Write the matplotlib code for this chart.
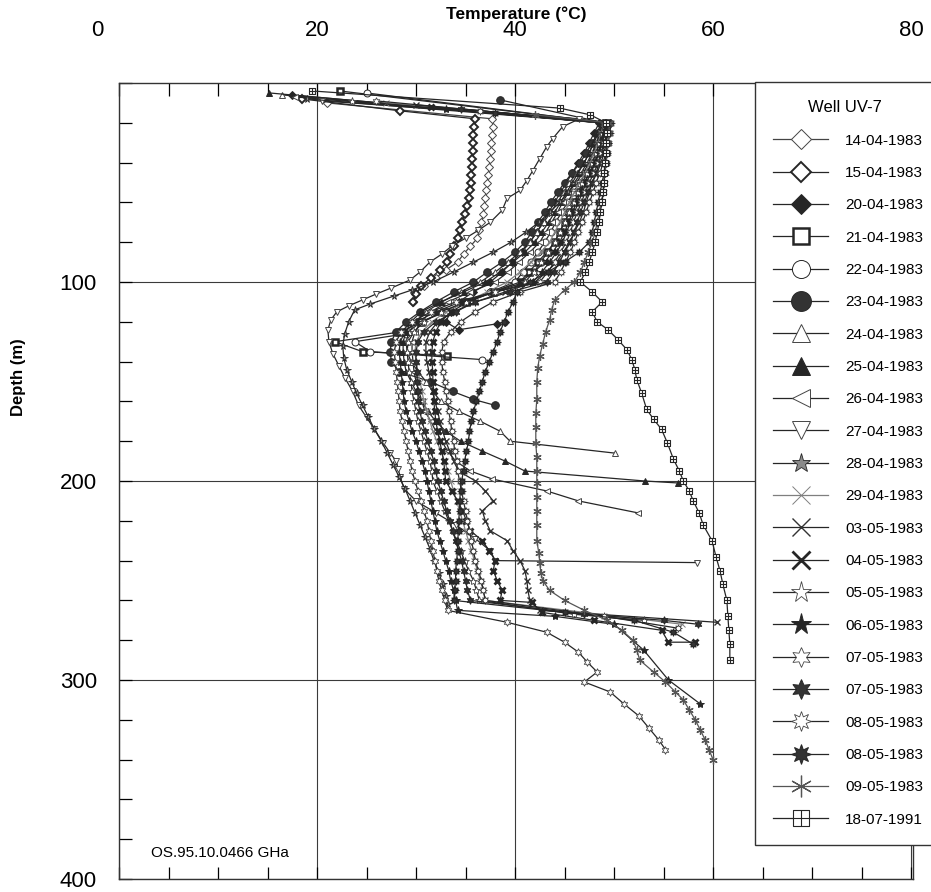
import matplotlib
matplotlib.use("Agg")
import matplotlib.pyplot as plt
from matplotlib.path import Path

plt.rcParams["font.family"] = ["Liberation Sans", "DejaVu Sans"]

# --- data (temperature degC vs depth m) ---
labels = ["14-04-1983", "15-04-1983", "20-04-1983", "21-04-1983", "22-04-1983",
          "23-04-1983", "24-04-1983", "25-04-1983", "26-04-1983", "27-04-1983",
          "28-04-1983", "29-04-1983", "03-05-1983", "04-05-1983", "05-05-1983",
          "06-05-1983", "07-05-1983", "07-05-1983", "08-05-1983", "08-05-1983",
          "09-05-1983", "18-07-1991"]

# depths of the logs read every 5 m
d_band = [20, 25, 30, 35, 40, 45, 50, 55, 60, 65, 70, 75, 80, 85, 90, 95, 100,
          105, 110, 115, 120, 125, 130, 135, 140, 145, 150, 155, 160, 165, 170,
          175, 180, 185, 190, 195, 200, 205, 210, 215, 220, 225, 230, 235, 240,
          245, 250, 255, 260, 265]

d_1404 = [10, 18, 22, 26, 30, 34, 38, 42, 46, 50, 54, 58, 62, 66, 70, 74, 78,
          82, 86, 90, 94, 98, 102, 106, 110]
t_1404 = [21.0, 37.7, 37.8, 37.7, 37.6, 37.6, 37.5, 37.4, 37.3, 37.2, 37.1, 37.0,
          36.9, 36.8, 36.6, 36.4, 36.2, 35.5, 34.8, 34.2, 33.0, 32.0, 30.8, 29.9, 29.7]

d_1504 = [8, 14, 18, 22, 26, 30, 34, 38, 42, 46, 50, 54, 58, 62, 66, 70, 74, 78,
          82, 86, 90, 94, 98, 102, 106, 110]
t_1504 = [18.5, 28.4, 36.0, 35.9, 35.8, 35.8, 35.8, 35.7, 35.7, 35.6, 35.6, 35.5,
          35.4, 35.2, 34.9, 34.6, 34.4, 34.2, 33.8, 33.4, 33.1, 32.4, 31.5, 30.5,
          30.0, 29.7]

top_2004 = (17.5, 6)
t_2004 = [48.5, 48.0, 47.5, 47.0, 46.4, 45.8, 45.2, 44.6, 44.0, 43.4, 42.8, 42.2,
          41.5, 40.7, 39.7, 38.7, 37.5, 35.8, 34.3, 33.5, 33.0]
tail_2004 = ([34.3, 38.2, 39.0], [124, 121, 120])

top_2104 = (22.3, 4)
t_2104 = [49.3, 49.0, 48.7, 48.4, 48.0, 47.5, 47.0, 46.5, 46.0, 45.5, 45.0, 44.5,
          44.0, 43.2, 42.3, 41.4, 40.5, 37.8, 35.0, 32.8, 30.5]
tail_2104 = ([28.5, 21.8, 24.6, 33.1], [125, 130, 135, 137])

top_2204 = (25.0, 5)
t_2204 = [49.2, 48.9, 48.6, 48.2, 47.8, 47.2, 46.5, 45.9, 45.3, 44.7, 44.1, 43.6,
          43.0, 42.3, 41.6, 40.8, 40.0, 37.5, 35.0, 33.0, 30.5]
tail_2204 = ([29.0, 23.8, 25.4, 36.7], [126, 130, 135, 139])

top_2304 = (38.5, 8.5)
t_2304 = [49.0, 48.4, 47.8, 47.2, 46.6, 45.8, 45.0, 44.3, 43.6, 43.0, 42.3, 41.7,
          41.0, 40.0, 38.7, 37.2, 35.8, 33.8, 32.0, 30.4, 29.0, 28.0, 27.5, 27.4,
          27.5, 28.3]
tail_2304 = ([31.4, 33.7, 35.8, 38.0], [150, 155, 159, 162])

top_2404 = (16.5, 6)
t_2404 = [48.8, 48.4, 48.0, 47.5, 47.0, 46.3, 45.5, 44.9, 44.3, 43.6, 42.9, 42.2,
          41.5, 40.5, 39.3, 38.0, 36.5, 34.5, 32.6, 31.0, 30.0, 29.3, 29.0, 29.1,
          29.5, 30.2, 31.0, 31.7, 32.5, 34.3, 36.5, 38.5, 39.5]
tail_2404 = ([50.1], [186])

top_2504 = (15.2, 5)
t_2504 = [48.7, 48.3, 47.9, 47.5, 47.0, 46.4, 45.8, 45.2, 44.6, 44.0, 43.4, 42.7,
          42.0, 41.0, 39.8, 38.5, 37.0, 34.8, 32.5, 30.5, 29.5, 29.0, 28.7, 28.7,
          28.8, 29.0, 29.5, 30.0, 30.6, 31.2, 32.0, 33.0, 34.5, 36.7, 39.0, 41.0]
tail_2504 = ([53.1, 56.5], [200, 201])

top_2604 = (17.8, 7)
t_2604 = [49.0, 48.6, 48.2, 47.8, 47.3, 46.7, 46.0, 45.4, 44.8, 44.3, 43.7, 43.1,
          42.5, 41.5, 40.4, 39.3, 38.0, 35.5, 33.2, 31.5, 30.5, 29.9, 29.6, 29.6,
          29.7, 29.8, 30.0, 30.3, 30.6, 30.9, 31.5, 32.0, 32.6, 33.2, 34.0, 35.5]
tail_2604 = ([37.7, 43.2, 46.4, 52.4], [199, 205, 210, 216])

d_2704 = [9, 18, 22, 28, 32, 38, 44, 49, 54, 58, 64, 70, 74, 78, 82, 86, 90, 95,
          99, 103, 106, 109, 112, 115, 119, 124, 130, 136, 142, 148, 155, 162, 168,
          174, 181, 186, 190, 194, 198, 204, 210, 216, 222, 229, 235, 240, 241]
t_2704 = [20.5, 46.5, 44.8, 43.8, 43.2, 42.5, 41.8, 41.2, 40.5, 39.2, 38.7, 37.5,
          36.3, 35.0, 33.6, 32.6, 31.4, 30.4, 29.4, 27.5, 26.0, 24.6, 23.2, 22.0,
          21.4, 21.1, 21.2, 21.6, 22.2, 22.8, 23.6, 24.2, 25.0, 25.8, 26.7, 27.4,
          28.0, 28.2, 28.4, 28.8, 30.0, 32.0, 34.0, 36.0, 37.5, 38.0, 58.4]

d_2804 = [8, 20, 25, 30, 35, 40, 45, 50, 55, 60, 65, 70, 75, 80, 85, 90, 95, 100,
          104, 107, 111, 114, 120, 126, 132, 138, 144, 150, 156, 162, 168, 174, 180,
          186, 192, 198, 204, 210, 216, 222, 228, 234, 240, 246, 252, 258, 262]
t_2804 = [19.0, 48.8, 48.6, 48.3, 47.9, 47.5, 46.9, 46.2, 45.4, 44.5, 43.5, 42.4,
          41.1, 39.6, 37.8, 35.8, 33.8, 31.7, 29.6, 27.8, 25.4, 23.8, 23.2, 22.8,
          22.6, 22.7, 23.0, 23.5, 24.0, 24.6, 25.2, 25.8, 26.5, 27.1, 27.7, 28.3,
          28.9, 29.4, 29.9, 30.4, 30.9, 31.4, 31.8, 32.3, 32.7, 33.0, 33.2]

top_2904 = (27.0, 10)
t_2904 = [49.0, 48.7, 48.4, 48.0, 47.6, 47.1, 46.5, 46.0, 45.5, 45.0,
          44.5, 44.0, 43.5, 42.6, 41.6, 40.5, 39.2, 37.2, 35.0, 33.0,
          31.6, 30.6, 30.0, 29.9, 30.0, 30.2, 30.4, 30.6, 30.8, 31.1,
          31.4, 31.7, 32.1, 32.5, 32.9, 33.2, 33.5, 33.8, 34.1, 34.4,
          34.7, 35.0, 35.3, 35.6, 35.9, 36.2, 36.5, 36.8, 37.0]
tail_2904 = ([56.9], [272])

top_0305 = (30.0, 11)
t_0305 = [49.5, 49.3, 49.1, 48.8, 48.5, 48.2, 47.8, 47.5, 47.2, 46.9,
          46.5, 46.0, 45.5, 44.9, 44.2, 43.2, 42.0, 39.0, 36.0, 33.8,
          32.2, 31.4, 31.0, 31.0, 31.1, 31.3, 31.5, 31.7, 31.9, 32.2,
          32.4, 32.7, 33.0, 33.4, 33.8, 34.3, 36.0, 37.0, 37.8, 36.7,
          37.0, 37.5, 39.2, 39.8, 40.5, 41.0, 41.2, 41.3, 41.5, 42.5]
tail_0305 = ([60.4], [271])

top_0405 = (31.5, 12)
t_0405 = [49.3, 49.1, 48.8, 48.5, 48.1, 47.6, 47.0, 46.6, 46.2, 45.8,
          45.4, 45.0, 44.5, 43.8, 43.0, 41.9, 40.5, 37.8, 35.3, 33.5,
          32.5, 32.0, 31.7, 31.6, 31.6, 31.7, 31.7, 31.8, 31.8, 31.9,
          32.0, 32.2, 32.4, 32.6, 32.8, 32.9, 33.0, 33.6, 34.2, 34.7,
          35.1, 35.5, 36.7, 37.4, 38.0, 37.8, 38.2, 38.7, 38.5]
tail_0405 = ([41.7, 42.7, 48.0, 54.8, 55.5, 58.2], [261, 266, 270, 275, 281, 281])

top_0505 = (23.5, 9)
t_0505 = [49.0, 48.8, 48.5, 48.2, 47.8, 47.3, 46.8, 46.4, 46.0, 45.5,
          45.0, 44.5, 44.0, 43.3, 42.6, 41.9, 41.0, 38.0, 35.0, 32.5,
          30.8, 29.8, 29.2, 29.1, 29.2, 29.3, 29.5, 29.6, 29.8, 30.0,
          30.2, 30.5, 30.8, 31.1, 31.4, 31.6, 31.7, 32.1, 32.5, 32.9,
          33.3, 33.7, 34.1, 34.5, 34.9, 35.3, 35.8, 36.1, 36.4]
tail_0505 = ([46.0, 53.0], [267, 270])

top_0605 = (33.0, 13)
t_0605 = [49.2, 49.0, 48.8, 48.5, 48.1, 47.7, 47.2, 46.8, 46.4, 46.0,
          45.6, 45.2, 44.8, 44.2, 43.5, 42.7, 41.8, 38.0, 34.5, 32.0,
          30.0, 28.9, 28.4, 28.3, 28.4, 28.5, 28.6, 28.7, 28.8, 29.0,
          29.3, 29.6, 30.0, 30.3, 30.6, 30.9, 31.1, 31.3, 31.5, 31.7,
          31.9, 32.1, 32.4, 32.7, 33.0, 33.3, 33.5, 33.8, 34.0, 34.2]
tail_0605 = ([44.0, 50.0, 53.0, 55.5, 58.7], [268, 272, 285, 300, 312])

top_0705a = (26.0, 9)
t_0705a = [49.5, 49.3, 49.0, 48.7, 48.4, 48.0, 47.5, 47.1, 46.7, 46.3,
           45.9, 45.6, 45.2, 44.6, 44.0, 43.3, 42.5, 38.0, 34.0, 31.5,
           29.6, 28.5, 28.0, 27.8, 27.9, 28.0, 28.1, 28.2, 28.3, 28.4,
           28.6, 28.8, 29.0, 29.2, 29.4, 29.6, 29.9, 30.2, 30.5, 30.8,
           31.1, 31.3, 31.5, 31.7, 31.9, 32.1, 32.3, 32.6, 32.9, 33.2]
tail_0705a = ([39.2, 43.2, 45.0, 46.4, 47.3, 48.3, 47.0, 49.6, 51.0, 52.5, 53.5, 54.5, 55.2],
              [271, 276, 281, 286, 291, 296, 301, 306, 312, 318, 324, 330, 335])

top_0705b = (34.5, 13)
t_0705b = [49.6, 49.4, 49.2, 49.0, 48.7, 48.3, 47.8, 47.4, 47.0, 46.6,
           46.3, 46.0, 45.6, 45.0, 44.5, 43.9, 43.2, 39.5, 36.0, 34.0,
           32.0, 30.8, 30.2, 30.0, 30.0, 30.1, 30.1, 30.2, 30.2, 30.4,
           30.6, 30.9, 31.2, 31.5, 31.8, 32.0, 32.2, 32.5, 32.8, 33.1,
           33.4, 33.7, 34.0, 34.3, 34.6, 34.8, 35.0, 35.2, 35.5]
tail_0705b = ([47.0, 55.0, 58.5], [267, 270, 272])

top_0805a = (36.5, 14)
t_0805a = [49.7, 49.6, 49.4, 49.2, 48.9, 48.6, 48.2, 47.9, 47.5, 47.2,
           46.8, 46.4, 46.0, 45.6, 45.1, 44.6, 44.0, 40.5, 37.8, 36.0,
           34.5, 33.5, 32.8, 32.6, 32.6, 32.7, 32.9, 33.0, 33.2, 33.3,
           33.5, 33.6, 33.8, 33.9, 34.1, 34.2, 34.4, 34.6, 34.8, 35.0,
           35.2, 35.4, 35.6, 35.8, 36.0, 36.3, 36.6, 36.8, 37.0]
tail_0805a = ([49.0, 56.5], [268, 274])

top_0805b = (38.0, 15)
t_0805b = [49.6, 49.5, 49.4, 49.3, 49.2, 49.0, 48.8, 48.6, 48.4, 48.2,
           48.0, 47.8, 47.5, 46.5, 45.0, 43.3, 41.5, 40.2, 39.8, 39.3,
           38.9, 38.5, 38.2, 37.8, 37.4, 37.0, 36.7, 36.4, 36.1, 35.8,
           35.6, 35.4, 35.3, 35.1, 34.9, 34.8, 34.6, 34.5, 34.4, 34.4,
           34.3, 34.3, 34.2, 34.2, 34.1, 34.0, 34.0, 33.9, 33.8]
tail_0805b = ([45.0, 52.0, 56.0, 58.0], [266, 270, 276, 282])

d_0905 = [16, 20, 25, 30, 35, 40, 45, 50, 55, 60, 65, 70, 75, 80, 85, 90, 95, 100,
          104, 109, 114, 119, 125, 131, 137, 143, 150, 159, 166, 173, 181, 188, 195,
          201, 208, 215, 222, 230, 236, 241, 246, 250, 255, 260, 265, 270, 275, 280,
          285, 290, 296, 301, 306, 310, 315, 320, 325, 330, 335, 340]
t_0905 = [42.0, 49.5, 49.5, 49.4, 49.3, 49.2, 49.1, 49.0, 48.9, 48.7, 48.5, 48.3,
          48.1, 47.8, 47.4, 47.0, 46.6, 46.0, 45.0, 44.0, 43.7, 43.5, 43.1, 42.8,
          42.5, 42.3, 42.2, 42.2, 42.1, 42.1, 42.1, 42.2, 42.2, 42.2, 42.2, 42.2,
          42.2, 42.2, 42.4, 42.5, 42.6, 42.8, 43.5, 45.0, 47.0, 49.3, 50.8, 51.9,
          52.3, 52.6, 54.0, 55.2, 56.2, 57.0, 57.6, 58.2, 58.7, 59.2, 59.6, 60.0]

d_1991 = [4, 12.6, 16, 20, 25, 30, 35, 40, 45, 50, 55, 60, 65, 70, 75, 80, 85, 90,
          95, 100, 105, 110, 115, 120, 124, 129, 134, 139, 144, 149, 156, 164, 169,
          174, 181, 189, 195, 200, 205, 210, 216, 222, 230, 238, 245, 252, 260, 268,
          275, 282, 290]
t_1991 = [19.5, 44.5, 47.6, 49.2, 49.3, 49.2, 49.2, 49.1, 49.0, 49.0, 48.9, 48.8,
          48.6, 48.5, 48.3, 48.1, 47.8, 47.5, 47.1, 46.6, 47.8, 48.8, 47.8, 48.3,
          49.4, 50.4, 51.3, 51.8, 52.1, 52.3, 52.8, 53.3, 54.0, 54.8, 55.4, 56.0,
          56.6, 57.0, 57.6, 58.0, 58.6, 59.0, 59.9, 60.3, 60.7, 61.0, 61.4, 61.5,
          61.6, 61.7, 61.7]


def profile(top, temps, tail):
    ts = [top[0]] + temps + tail[0]
    ds = [top[1]] + d_band[:len(temps)] + tail[1]
    return ts, ds


box_plus = Path([(-1, -1), (1, -1), (1, 1), (-1, 1), (-1, -1),
                 (0, -1), (0, 1), (-1, 0), (1, 0)],
                [Path.MOVETO, Path.LINETO, Path.LINETO, Path.LINETO, Path.CLOSEPOLY,
                 Path.MOVETO, Path.LINETO, Path.MOVETO, Path.LINETO])

dark = "#262626"
light = "#7f7f7f"
mid = "#555555"


def st(marker, ms=4.5, fill="white", edge=dark, mew=0.7, color=dark):
    return dict(marker=marker, ms=ms, mfc=fill, mec=edge, mew=mew, color=color, lw=0.9)


series = [
    ((t_1404, d_1404), st("D", 4, edge="#444444", color="#444444")),
    ((t_1504, d_1504), st("D", 4, mew=1.4)),
    (profile(top_2004, t_2004, tail_2004), st("D", 4, fill=dark)),
    (profile(top_2104, t_2104, tail_2104), st("s", 4.2, mew=1.8)),
    (profile(top_2204, t_2204, tail_2204), st("o", 5)),
    (profile(top_2304, t_2304, tail_2304), st("o", 5.5, fill="#333333")),
    (profile(top_2404, t_2404, tail_2404), st("^", 5, edge="#444444")),
    (profile(top_2504, t_2504, tail_2504), st("^", 5, fill=dark)),
    (profile(top_2604, t_2604, tail_2604), st("<", 5, edge="#444444")),
    ((t_2704, d_2704), st("v", 5, edge="#444444")),
    ((t_2804, d_2804), st("*", 5.5, fill="#8a8a8a", mew=0.6)),
    (profile(top_2904, t_2904, tail_2904), st("x", 5, edge=light, color=light)),
    (profile(top_0305, t_0305, tail_0305), st("x", 5, edge="#333333", mew=1.0)),
    (profile(top_0405, t_0405, tail_0405), st("x", 5, mew=2.0)),
    (profile(top_0505, t_0505, tail_0505), st("*", 6, edge="#444444", mew=0.6)),
    (profile(top_0605, t_0605, tail_0605), st("*", 6, fill=dark)),
    (profile(top_0705a, t_0705a, tail_0705a), st((6, 1, 0), 5.5, edge="#444444", mew=0.6)),
    (profile(top_0705b, t_0705b, tail_0705b), st((6, 1, 0), 5.5, fill="#333333")),
    (profile(top_0805a, t_0805a, tail_0805a), st((8, 1, 0), 5.5, edge="#444444", mew=0.6)),
    (profile(top_0805b, t_0805b, tail_0805b), st((8, 1, 0), 5.5, fill="#333333")),
    ((t_0905, d_0905), st((6, 2, 0), 6, edge=mid, mew=0.9, color=mid)),
    ((t_1991, d_1991), st(box_plus, 4.5, mew=0.8)),
]

fig = plt.figure(figsize=(9.31, 8.92), dpi=100)
ax = fig.add_axes([119 / 931, 1 - 879 / 892, 794 / 931, 796 / 892])

handles = []
for (ts, ds), kw in series:
    h, = ax.plot(ts, ds, **kw, zorder=3)
    handles.append(h)

ax.set_xlim(0, 80.2)
ax.set_ylim(400, 0)

ax.set_xticks([0, 20, 40, 60, 80])
ax.set_xticks(range(0, 81, 5), minor=True)
ax.set_xticklabels(["", "20", "40", "60", "80"])
ax.set_yticks([100, 200, 300, 400])
ax.set_yticks(range(0, 401, 20), minor=True)
ax.tick_params(axis="x", which="both", top=True, bottom=True, labeltop=True,
               labelbottom=False, direction="in", length=9, width=0.9,
               labelsize=16, pad=30)
ax.tick_params(axis="y", which="both", left=True, right=False, direction="in",
               length=9, width=0.9, labelsize=16, pad=16)
ax.grid(True, which="major", color="#3a3a3a", lw=0.8)
for sp in ax.spines.values():
    sp.set_linewidth(1.0)
    sp.set_color("#333333")

ax.xaxis.set_label_position("top")
ax.set_xlabel("Temperature (°C)", fontsize=12.5, fontweight="bold", labelpad=1)
ax.set_ylabel("Depth (m)", fontsize=12, fontweight="bold")
ax.yaxis.set_label_coords(-0.117, 0.63)
fig.text(97 / 931, 1 - 30 / 892, "0", fontsize=16, ha="center", va="center")

ax.text(3.2, 387, "OS.95.10.0466 GHa", fontsize=11, va="center", ha="left")

leg = ax.legend(handles, labels, loc="upper left",
                bbox_to_anchor=(755 / 931, 0, 180 / 931, 1 - 82 / 892),
                bbox_transform=fig.transFigure, mode="expand", borderaxespad=0,
                fancybox=False, framealpha=1, edgecolor="#333333",
                title="Well UV-7", title_fontsize=12, fontsize=11,
                handlelength=3.6, handletextpad=1.1, labelspacing=1.2,
                markerscale=2.6, borderpad=1.2)
leg.get_frame().set_linewidth(1.0)
leg.set_zorder(10)

fig.savefig("out.png", dpi=100)
